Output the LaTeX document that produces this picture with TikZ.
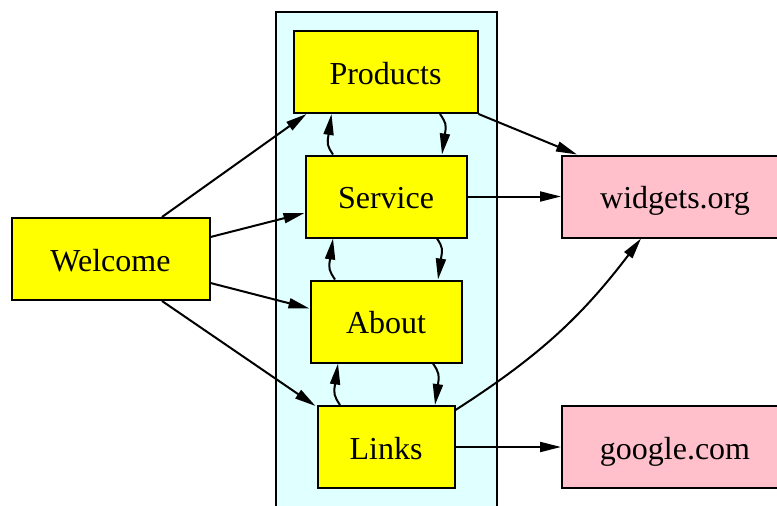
\documentclass[tikz,border=0pt]{standalone}
\usepackage{fontspec}
\setmainfont{Liberation Serif}
\usetikzlibrary{arrows.meta}
\definecolor{pagefill}{RGB}{255,255,0}
\definecolor{extfill}{RGB}{255,192,203}
\definecolor{clusterfill}{RGB}{224,255,255}
\begin{document}
\begin{tikzpicture}[x=1pt,y=-1pt,
  pagebox/.style={draw=black, line width=2pt, fill=pagefill, minimum width=#1, minimum height=82pt, inner sep=0pt, text height=24pt, text depth=0pt, font=\fontsize{32}{38}\selectfont},
  extbox/.style={draw=black, line width=2pt, fill=extfill, minimum width=226pt, minimum height=82pt, inner sep=0pt, text height=24pt, text depth=0pt, font=\fontsize{32}{38}\selectfont},
  link/.style={line width=2pt, -{Triangle[length=21pt,width=10pt]}}]
\useasboundingbox (0,0) rectangle (777,506);
\clip (0,0) rectangle (777,506);
\draw[line width=2pt, fill=clusterfill] (276,12) rectangle (497,530);

\node[pagebox=198pt] (welcome) at (110.5,259) {Welcome};
\node[pagebox=184pt] (products) at (385.5,72) {Products};
\node[pagebox=161pt] (service) at (386,196.5) {Service};
\node[pagebox=151pt] (about) at (386,321.5) {About};
\node[pagebox=137pt] (links) at (386,447) {Links};
\node[extbox] (widgets) at (675,196.5) {widgets.org};
\node[extbox] (google) at (675,447) {google.com};

\draw[link] ([xshift=51.5pt]welcome.north) -- ([xshift=-79pt]products.south);
\draw[link] ([yshift=22pt]welcome.east) -- ([yshift=-16.5pt]service.west);
\draw[link] ([yshift=-24pt]welcome.east) -- ([yshift=13pt]about.west);
\draw[link] ([xshift=51.5pt]welcome.south) -- ([xshift=-1pt,yshift=-1pt]links.north west);

\draw[link] ([xshift=-53pt]service.north) .. controls +(-6,-9) and +(-1.5,9) .. ([xshift=-57pt,yshift=-21pt]products.south) -- ([xshift=-54pt]products.south);
\draw[link] ([xshift=54.5pt]products.south) .. controls +(6,9) and +(1.5,-9) .. ([xshift=59pt,yshift=21pt]service.north) -- ([xshift=56pt]service.north);
\draw[link] ([xshift=-51pt]about.north) .. controls +(-6,-9) and +(-1.5,9) .. ([xshift=-56pt,yshift=-21pt]service.south) -- ([xshift=-53pt]service.south);
\draw[link] ([xshift=51pt]service.south) .. controls +(6,9) and +(1.5,-9) .. ([xshift=55pt,yshift=21pt]about.north) -- ([xshift=52pt]about.north);
\draw[link] ([xshift=-46pt]links.north) .. controls +(-6,-9) and +(-1.5,9) .. ([xshift=-51pt,yshift=-21pt]about.south) -- ([xshift=-48pt]about.south);
\draw[link] ([xshift=47pt]about.south) .. controls +(6,9) and +(1.5,-9) .. ([xshift=52pt,yshift=21pt]links.north) -- ([xshift=49pt]links.north);

\draw[link] (products.south east) -- ([xshift=-98pt]widgets.north);
\draw[link] (service.east) -- (widgets.west);
\draw[link] ([yshift=-5pt]links.north east) to[bend right=10] ([xshift=-34pt]widgets.south);
\draw[link] (links.east) -- (google.west);
\end{tikzpicture}
\end{document}
